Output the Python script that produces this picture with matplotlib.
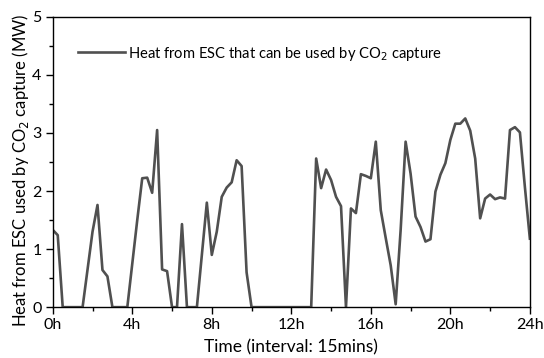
import numpy as np
import matplotlib.pyplot as plt
from matplotlib.ticker import MultipleLocator

plt.rcParams['font.family'] = ['Lato', 'DejaVu Sans']

# heat available every 15 minutes over one day (MW), 97 points 0h..24h
heat = [
    1.33, 1.24, 0.00, 0.00, 0.00, 0.00, 0.00, 0.65, 1.30, 1.76,
    0.64, 0.53, 0.00, 0.00, 0.00, 0.00, 0.75, 1.50, 2.22, 2.23,
    1.97, 3.05, 0.65, 0.62, 0.00, 0.00, 1.43, 0.00, 0.00, 0.00,
    0.90, 1.80, 0.90, 1.30, 1.90, 2.06, 2.15, 2.53, 2.43, 0.60,
    0.00, 0.00, 0.00, 0.00, 0.00, 0.00, 0.00, 0.00, 0.00, 0.00,
    0.00, 0.00, 0.00, 2.56, 2.05, 2.37, 2.19, 1.90, 1.74, 0.00,
    1.70, 1.62, 2.29, 2.26, 2.22, 2.85, 1.67, 1.19, 0.72, 0.05,
    1.33, 2.85, 2.30, 1.56, 1.38, 1.13, 1.17, 1.99, 2.28, 2.48,
    2.88, 3.16, 3.16, 3.25, 3.04, 2.56, 1.53, 1.87, 1.94, 1.86,
    1.89, 1.87, 3.05, 3.10, 3.01, 2.07, 1.18,
]
hours = np.arange(len(heat)) * 0.25

xtick_pos = [0, 4, 8, 12, 16, 20, 24]
xtick_labels = ['0h', '4h', '8h', '12h', '16h', '20h', '24h']

fig = plt.figure(figsize=(5.44, 3.58), dpi=100)
ax = fig.add_axes([0.097, 0.142, 0.877, 0.811])

ax.plot(hours, heat, color='#505050', lw=1.9, zorder=1,
        label='Heat from ESC that can be used by CO$_2$ capture')

ax.set_xlim(0, 24)
ax.set_ylim(0, 5)
ax.set_xticks(xtick_pos)
ax.set_xticklabels(xtick_labels)
ax.xaxis.set_minor_locator(MultipleLocator(2))
ax.yaxis.set_major_locator(MultipleLocator(1))
ax.yaxis.set_minor_locator(MultipleLocator(0.5))
ax.tick_params(which='major', direction='out', length=5, width=1, labelsize=11.5, pad=3)
ax.tick_params(which='minor', direction='out', length=3, width=1)
for s in ax.spines.values():
    s.set_linewidth(1.0)
    s.set_zorder(3)

ax.set_xlabel('Time (interval: 15mins)', fontsize=12.5, labelpad=5)
ax.set_ylabel('Heat from ESC used by CO$_2$ capture (MW)', fontsize=12)
ax.yaxis.set_label_coords(-0.046, 0.472)

ax.legend(loc='upper left', bbox_to_anchor=(0.025, 0.95), frameon=False,
          fontsize=10.6, handlelength=3.2, handletextpad=0.2)

fig.savefig('out.png', dpi=100)
